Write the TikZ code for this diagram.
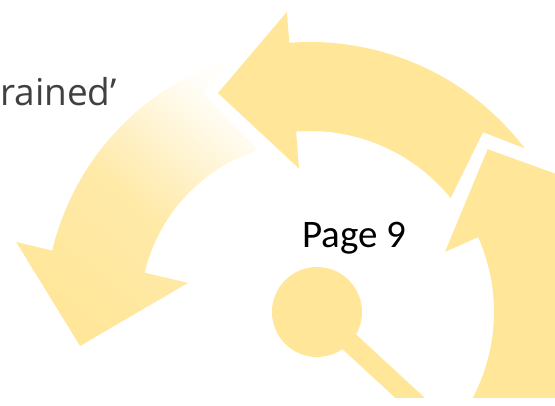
\documentclass[tikz,border=0pt]{standalone}
\usepackage{fontspec}
\setmainfont{Carlito}
\newfontfamily\opensans{Open Sans}
\usetikzlibrary{calc}
\definecolor{arrowfill}{HTML}{FFE699}
\definecolor{txtgray}{HTML}{404040}
\tikzset{
  arrowshape/.style={fill=arrowfill, draw=none},
  fadeshape/.style={top color=arrowfill!6!white, bottom color=arrowfill, middle color=arrowfill!85!white, shading angle=-40},
  pagetext/.style={anchor=base west, inner sep=0pt, font=\fontsize{39}{39}\selectfont},
  cuttext/.style={anchor=base west, inner sep=0pt, text=txtgray, font=\opensans\fontsize{37}{37}\selectfont}
}
\begin{document}
\begin{tikzpicture}[x=1pt,y=1pt]
\useasboundingbox (0,0) rectangle (555,-406);
\coordinate (C) at (310,-312);
\begin{scope}
\clip (0,0) rectangle (555,-398);
% right arrow (pointing up)
\path[arrowshape] ($(C)+(-50:184)$) arc[start angle=-50, end angle=24, radius=184]
  -- ($(C)+(24:147.7)$) -- ($(C)+(42.5:241)$) -- ($(C)+(24:308)$) -- ($(C)+(24:272)$)
  arc[start angle=24, end angle=-50, radius=272] -- cycle;
% top arrow (pointing left)
\path[arrowshape] ($(C)+(37.3:270)$) arc[start angle=37.3, end angle=94.4, radius=270]
  -- ($(C)+(94.4:301)$) -- ($(C)+(112.8:237.5)$) -- ($(C)+(94.4:144)$) -- ($(C)+(94.4:181)$)
  arc[start angle=94.4, end angle=39, radius=181] -- ($(C)+(46.1:249.6)$) -- cycle;
% left arrow (pointing down-left), faded tail
\shade[fadeshape] ($(C)+(107.05:265)$) arc[start angle=107.05, end angle=166.6, radius=265]
  -- ($(C)+(166.6:302)$) -- ($(C)+(188.4:232.5)$) -- ($(C)+(166.6:125.4)$) -- ($(C)+(166.6:170)$)
  arc[start angle=166.6, end angle=107.8, radius=170] -- ($(C)+(116:243.7)$) -- cycle;
% gauge
\node[circle, fill=arrowfill, minimum size=90pt, inner sep=0pt] (hub) at (317,-312) {};
\coordinate (stickend) at (447,-432);
\draw[arrowfill, line width=20pt] (hub.center) -- (stickend);
\end{scope}
\node[pagetext] (page) at (302,-248) {Page 9};
\node[cuttext] (lbl) at (0,-106) {rained’};
\end{tikzpicture}
\end{document}
